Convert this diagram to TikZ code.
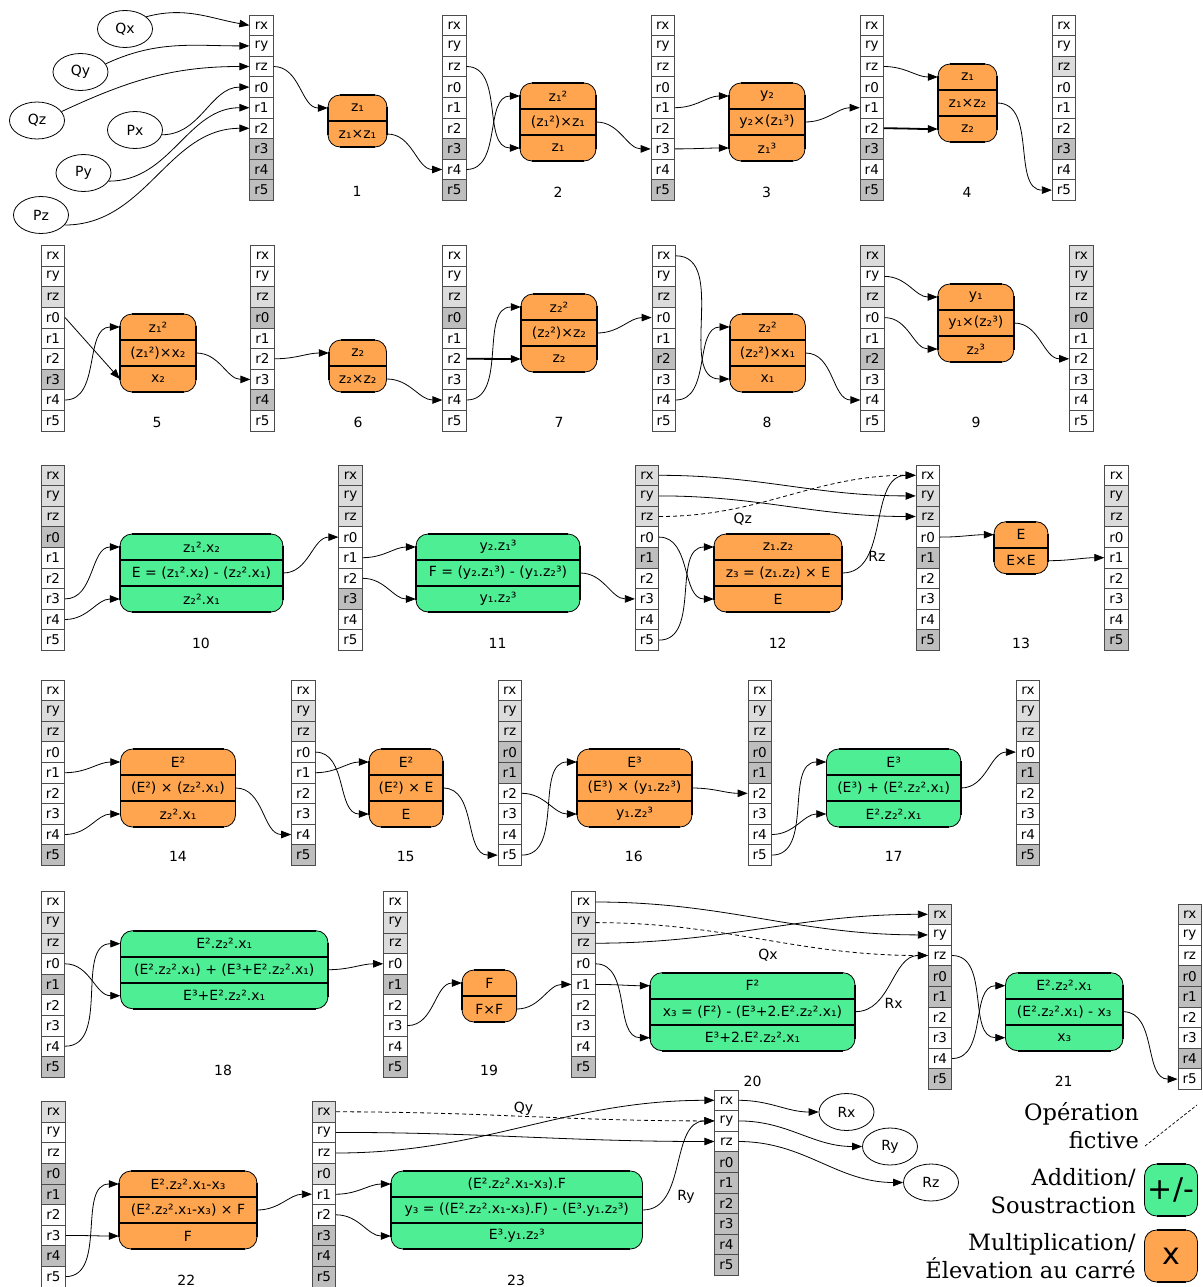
\documentclass[tikz,border=0pt]{standalone}
\usepackage{fontspec}
\setmainfont{DejaVu Sans}
\newfontfamily\legfont{DejaVu Serif}
\usetikzlibrary{arrows.meta,shapes.geometric}
\definecolor{cw}{HTML}{FFFFFF}
\definecolor{cl}{HTML}{DCDCDC}
\definecolor{cd}{HTML}{BEBEBE}
\definecolor{corange}{HTML}{FFA54F}
\definecolor{cgreen}{HTML}{4EEE94}

\newcommand\rlab[1]{\ifcase#1 rx\or ry\or rz\or r0\or r1\or r2\or r3\or r4\or r5\fi}
\newcommand\regcol[4]{%
  \foreach \c [count=\i from 0] in {#4} {
    \node[reg,fill=\c] (#1-\rlab{\i}) at (#2,#3+\i*20.6+10.3) {\rlab{\i}};
  }}
\newcommand\opshape[5]{%
  \fill[#1, rounded corners=12pt] (#2,#3) rectangle ++(#4,#5);
  \draw[line width=0.8pt, rounded corners=12pt] (#2,#3) rectangle ++(#4,#5);
  \draw[line width=1.8pt] (#2+12,#3) -- ++(#4-24,0);
  \draw[line width=1.8pt] (#2+12,#3+#5) -- ++(#4-24,0);
  \draw[line width=1.6pt] (#2,#3+12) -- ++(0,#5-24);
  \draw[line width=1.6pt] (#2+#4,#3+12) -- ++(0,#5-24);
}
\newcommand\opiii[8]{%
  \opshape{#2}{#3}{#4}{#5}{78}
  \draw[line width=1.8pt] (#3,#4+26) -- ++(#5,0);
  \draw[line width=1.8pt] (#3,#4+52) -- ++(#5,0);
  \node[opcell, minimum width=#5] (#1-1) at (#3+#5/2,#4+13) {#6};
  \node[opcell, minimum width=#5] (#1-2) at (#3+#5/2,#4+39) {#7};
  \node[opcell, minimum width=#5] (#1-3) at (#3+#5/2,#4+65) {#8};
}
\newcommand\opii[7]{%
  \opshape{#2}{#3}{#4}{#5}{52}
  \draw[line width=1.8pt] (#3,#4+26) -- ++(#5,0);
  \node[opcell, minimum width=#5] (#1-1) at (#3+#5/2,#4+13) {#6};
  \node[opcell, minimum width=#5] (#1-2) at (#3+#5/2,#4+39) {#7};
}

\begin{document}
\begin{tikzpicture}[x=1pt,y=-1pt,
  reg/.style={draw=black!70, line width=0.7pt, minimum width=23.5pt, minimum height=20.6pt, inner sep=0pt, font=\fontsize{13.5}{15}\selectfont},
  opcell/.style={inner sep=0pt, minimum height=26pt, font=\fontsize{14}{16}\selectfont},
  lbl/.style={inner sep=0pt, font=\fontsize{14}{16}\selectfont},
  ell/.style={draw, line width=0.8pt, ellipse, minimum width=55pt, minimum height=37pt, inner sep=0pt, font=\fontsize{14}{16}\selectfont},
  arr/.style={-{Triangle[length=10pt,width=7.5pt]}, line width=0.8pt},
  boldarr/.style={arr, line width=1.8pt},
  dasharr/.style={arr, dash pattern=on 4pt off 3pt},
  leg/.style={inner sep=0pt, anchor=east, align=right, font=\legfont\fontsize{22.5}{28}\selectfont}]
\useasboundingbox (0,0) rectangle (1202,1287);

% ---------- register columns ----------
\regcol{C1a}{261.5}{15}{cw,cw,cw,cw,cw,cw,cd,cd,cd}
\regcol{C1b}{454.3}{15}{cw,cw,cw,cw,cw,cw,cd,cw,cd}
\regcol{C1c}{662.8}{15}{cw,cw,cw,cw,cw,cw,cw,cw,cd}
\regcol{C1d}{871.8}{15}{cw,cw,cw,cw,cw,cw,cd,cw,cd}
\regcol{C1e}{1064}{15}{cw,cw,cl,cw,cw,cw,cd,cw,cw}

\regcol{C2a}{53}{245.5}{cw,cw,cl,cw,cw,cw,cd,cw,cw}
\regcol{C2b}{262.5}{245.5}{cw,cw,cl,cd,cw,cw,cw,cd,cw}
\regcol{C2c}{454.5}{245.5}{cw,cw,cl,cd,cw,cw,cw,cw,cw}
\regcol{C2d}{663.7}{245.5}{cw,cw,cl,cw,cw,cd,cw,cw,cw}
\regcol{C2e}{872.5}{245.5}{cl,cw,cl,cw,cw,cd,cw,cw,cw}
\regcol{C2f}{1081.3}{245.5}{cl,cl,cl,cd,cw,cw,cw,cw,cw}

\regcol{C3a}{53}{465}{cl,cl,cl,cd,cw,cw,cw,cw,cw}
\regcol{C3b}{350.5}{465}{cl,cl,cl,cw,cw,cw,cd,cw,cw}
\regcol{C3c}{647}{465}{cl,cl,cl,cw,cd,cw,cw,cw,cw}
\regcol{C3d}{927.8}{465}{cw,cl,cl,cw,cd,cw,cw,cw,cd}
\regcol{C3e}{1116.4}{465}{cw,cl,cl,cw,cw,cw,cw,cw,cd}

\regcol{C4a}{53}{680}{cw,cl,cl,cw,cw,cw,cw,cw,cd}
\regcol{C4b}{303.3}{680}{cw,cl,cl,cw,cw,cw,cw,cw,cd}
\regcol{C4c}{509.8}{680}{cw,cl,cl,cd,cd,cw,cw,cw,cw}
\regcol{C4d}{759.7}{680}{cw,cl,cl,cd,cd,cw,cw,cw,cw}
\regcol{C4e}{1028}{680}{cw,cl,cl,cw,cd,cw,cw,cw,cd}

\regcol{C5a}{53}{891.7}{cw,cl,cl,cw,cd,cw,cw,cw,cd}
\regcol{C5b}{395.3}{891.7}{cw,cl,cl,cw,cd,cw,cw,cw,cd}
\regcol{C5c}{583.5}{891.7}{cw,cl,cl,cw,cw,cw,cw,cw,cd}
\regcol{C5d}{940}{904}{cl,cw,cw,cd,cd,cw,cw,cw,cd}
\regcol{C5e}{1189.7}{904}{cl,cw,cw,cd,cd,cw,cw,cd,cw}

\regcol{C6a}{53.5}{1101.5}{cl,cw,cw,cd,cd,cw,cw,cd,cw}
\regcol{C6b}{324}{1101.5}{cl,cw,cw,cl,cw,cw,cd,cd,cd}
\regcol{C6c}{726.5}{1090}{cw,cw,cw,cd,cd,cd,cd,cd,cd}

% ---------- operation boxes ----------
\opii{o1}{corange}{328}{95}{59}{z₁}{z₁×z₁}
\opiii{o2}{corange}{520}{83}{76}{z₁²}{(z₁²)×z₁}{z₁}
\opiii{o3}{corange}{729}{83}{76}{y₂}{y₂×(z₁³)}{z₁³}
\opiii{o4}{corange}{938}{64}{59}{z₁}{z₁×z₂}{z₂}
\opiii{o5}{corange}{120}{314}{76}{z₁²}{(z₁²)×x₂}{x₂}
\opii{o6}{corange}{329}{340}{57.5}{z₂}{z₂×z₂}
\opiii{o7}{corange}{521}{294}{76}{z₂²}{(z₂²)×z₂}{z₂}
\opiii{o8}{corange}{729.7}{314}{75.7}{z₂²}{(z₂²)×x₁}{x₁}
\opiii{o9}{corange}{937.8}{284}{76}{y₁}{y₁×(z₂³)}{z₂³}
\opiii{o10}{cgreen}{120}{534}{163}{z₁².x₂}{E = (z₁².x₂) - (z₂².x₁)}{z₂².x₁}
\opiii{o11}{cgreen}{416}{534}{164}{y₂.z₁³}{F = (y₂.z₁³) - (y₁.z₂³)}{y₁.z₂³}
\opiii{o12}{corange}{714}{534}{128}{z₁.z₂}{z₃ = (z₁.z₂) × E}{E}
\opii{o13}{corange}{994}{521.7}{54}{E}{E×E}
\opiii{o14}{corange}{120.5}{749}{115}{E²}{(E²) × (z₂².x₁)}{z₂².x₁}
\opiii{o15}{corange}{369}{749}{74}{E²}{(E²) × E}{E}
\opiii{o16}{corange}{577}{749}{115}{E³}{(E³) × (y₁.z₂³)}{y₁.z₂³}
\opiii{o17}{cgreen}{826.5}{749}{134.3}{E³}{(E³) + (E².z₂².x₁)}{E².z₂².x₁}
\opiii{o18}{cgreen}{120.5}{930.7}{207.5}{E².z₂².x₁}{(E².z₂².x₁) + (E³+E².z₂².x₁)}{E³+E².z₂².x₁}
\opii{o19}{corange}{462}{970}{54.6}{F}{F×F}
\opiii{o20}{cgreen}{650}{972.7}{205}{F²}{x₃ = (F²) - (E³+2.E².z₂².x₁)}{E³+2.E².z₂².x₁}
\opiii{o21}{cgreen}{1005.5}{972.7}{117.5}{E².z₂².x₁}{(E².z₂².x₁) - x₃}{x₃}
\opiii{o22}{corange}{119}{1171}{138}{E².z₂².x₁-x₃}{(E².z₂².x₁-x₃) × F}{F}
\opiii{o23}{cgreen}{391}{1171}{251.4}{(E².z₂².x₁-x₃).F}{y₃ = ((E².z₂².x₁-x₃).F) - (E³.y₁.z₂³)}{E³.y₁.z₂³}

% ---------- ellipses ----------
\node[ell] (Qx) at (125,29) {Qx};
\node[ell] (Qy) at (80.5,72) {Qy};
\node[ell] (Qz) at (37,120.5) {Qz};
\node[ell] (Px) at (135,130) {Px};
\node[ell] (Py) at (83.5,173) {Py};
\node[ell] (Pz) at (41,215) {Pz};
\node[ell] (Rx) at (846.5,1112) {Rx};
\node[ell] (Ry) at (890,1146.5) {Ry};
\node[ell] (Rz) at (931,1182.5) {Rz};

% ---------- step labels ----------
\node[lbl] (s1) at (357,191) {1};
\node[lbl] (s2) at (558,192) {2};
\node[lbl] (s3) at (766.5,192) {3};
\node[lbl] (s4) at (967,192) {4};
\node[lbl] (s5) at (157,422) {5};
\node[lbl] (s6) at (358,422) {6};
\node[lbl] (s7) at (559,422) {7};
\node[lbl] (s8) at (767,422) {8};
\node[lbl] (s9) at (976,422) {9};
\node[lbl] (s10) at (201,643) {10};
\node[lbl] (s11) at (497.5,643) {11};
\node[lbl] (s12) at (777.7,643) {12};
\node[lbl] (s13) at (1021,643) {13};
\node[lbl] (s14) at (178,856) {14};
\node[lbl] (s15) at (405.7,856) {15};
\node[lbl] (s16) at (633.8,856) {16};
\node[lbl] (s17) at (893.7,856) {17};
\node[lbl] (s18) at (223,1070) {18};
\node[lbl] (s19) at (489,1070) {19};
\node[lbl] (s20) at (752.5,1081.7) {20};
\node[lbl] (s21) at (1063.7,1081.7) {21};
\node[lbl] (s22) at (186.3,1280.5) {22};
\node[lbl] (s23) at (516,1280.5) {23};

% ---------- edge labels ----------
\node[lbl] (lQz) at (742.8,519) {Qz};
\node[lbl] (lRz) at (877,556) {Rz};
\node[lbl] (lQx) at (768,955) {Qx};
\node[lbl] (lRx) at (893.7,1003) {Rx};
\node[lbl] (lQy) at (523.6,1109) {Qy};
\node[lbl] (lRy) at (686,1196.7) {Ry};

% ---------- edges ----------
\draw[arr] (Qx.30) to[out=15,in=170] (C1a-rx.west);
\draw[arr] (Qy.18) to[out=25,in=180] (C1a-ry.west);
\draw[arr] (Qz.20) to[out=25,in=180] (C1a-rz.west);
\draw[arr] (Px.-10) to[out=0,in=180] (C1a-r0.west);
\draw[arr] (Py.-18) to[out=0,in=180] (C1a-r1.west);
\draw[arr] (Pz.-23) to[out=0,in=180] (C1a-r2.west);

\foreach \a/\b in {C1a-rz/o1-1, o1-2/C1b-r4, C1b-r4/o2-1, C1b-rz/o2-3, o2-2/C1c-r3, C1c-r1/o3-1, C1c-r3/o3-3, o3-2/C1d-r1, C1d-rz/o4-1, o4-2/C1e-r5,
  C2a-r4/o5-1, o5-2/C2b-r3, C2b-r2/o6-1, o6-2/C2c-r4, C2c-r4/o7-1, o7-2/C2d-r0, C2d-r4/o8-1, C2d-rx/o8-3, o8-2/C2e-r4, C2e-ry/o9-1, C2e-r0/o9-3, o9-2/C2f-r2,
  C3a-r3/o10-1, C3a-r4/o10-3, o10-2/C3b-r0, C3b-r1/o11-1, C3b-r2/o11-3, o11-2/C3c-r3, C3c-r5/o12-1, C3c-r0/o12-3, C3c-rx/C3d-ry, C3c-ry/C3d-rz, o12-2/C3d-rx, C3d-r0/o13-1, o13-2/C3e-r1,
  C4a-r1/o14-1, C4a-r4/o14-3, o14-2/C4b-r4, C4b-r1/o15-1, C4b-r0/o15-3, o15-2/C4c-r5, C4c-r5/o16-1, C4c-r2/o16-3, o16-2/C4d-r2, C4d-r5/o17-1, C4d-r4/o17-3, o17-2/C4e-r0,
  C5a-r4/o18-1, C5a-r0/o18-3, o18-2/C5b-r0, C5b-r3/o19-1, o19-2/C5c-r1, C5c-r1/o20-1, C5c-r0/o20-3, C5c-rx/C5d-ry, C5c-rz/C5d-rx, o20-2/C5d-rz, C5d-r4/o21-1, C5d-rz/o21-3, o21-2/C5e-r5,
  C6a-r5/o22-1, C6a-r3/o22-3, o22-2/C6b-r1, C6b-r1/o23-1, C6b-r2/o23-3, C6b-ry/C6c-rz, C6b-rz/C6c-rx, o23-2/C6c-ry, C6c-rx/Rx, C6c-ry/Ry, C6c-rz/Rz}
  \draw[arr] (\a.east) to[out=0,in=180] (\b.west);

\draw[arr] (C2a-r0.east) -- (o5-3.west);
\draw[boldarr] (C1d-r2.east) to[out=0,in=180] (o4-3.west);
\draw[boldarr] (C2c-r2.east) to[out=0,in=180] (o7-3.west);
\draw[dasharr] (C3c-rz.east) to[out=0,in=180] (C3d-rx.west);
\draw[dasharr] (C5c-ry.east) to[out=0,in=180] (C5d-rz.west);
\draw[dasharr] (C6b-rx.east) to[out=0,in=180] (C6c-ry.west);

% ---------- legend ----------
\node[leg] (lg1) at (1139,1126) {Opération\\fictive};
\coordinate (lgA) at (1145,1146);
\coordinate (lgB) at (1197,1105);
\draw[line width=0.7pt, dash pattern=on 3pt off 2pt] (lgA) -- (lgB);
\node[leg] (lg2) at (1136,1191) {Addition/\\Soustraction};
\opshape{cgreen}{1144.5}{1164}{53}{52}
\node[inner sep=0pt, font=\fontsize{30}{32}\selectfont] (lg2b) at (1171,1190) {+/-};
\node[leg] (lg3) at (1136,1256) {Multiplication/\\Élevation au carré};
\opshape{corange}{1144.5}{1230}{53}{52}
\node[inner sep=0pt, font=\fontsize{30}{32}\selectfont] (lg3b) at (1171,1256) {x};
\end{tikzpicture}
\end{document}
